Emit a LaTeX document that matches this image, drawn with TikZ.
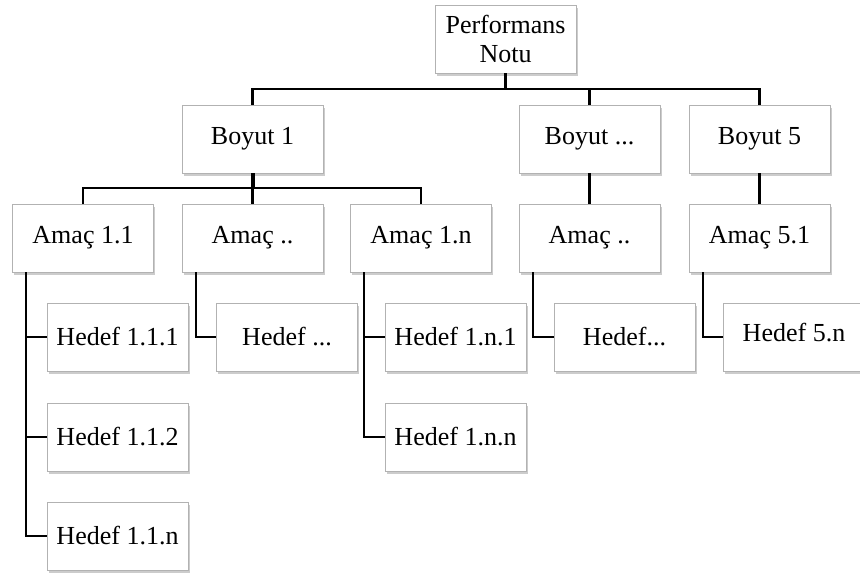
\documentclass[tikz,border=0pt]{standalone}
\usepackage{fontspec}
\setmainfont{Liberation Serif}
\usetikzlibrary{shadows}
\tikzset{box/.style={draw=gray!60, fill=white, line width=0.8pt, minimum width=141pt, minimum height=68pt, inner sep=0pt, align=center, font=\fontsize{26}{29}\selectfont, drop shadow={shadow xshift=1.5pt, shadow yshift=-2.5pt, opacity=0.4}},
conn/.style={line width=2.2pt}}

\begin{document}
\begin{tikzpicture}[x=1pt,y=-1pt]
\useasboundingbox (0,0) rectangle (860,574);
\node (root) at (505.5,39) [box] {Performans\\Notu};
\node (b1) at (252.5,139) [box] {Boyut 1};
\node (b2) at (589.5,139) [box] {Boyut ...};
\node (b5) at (759.5,139) [box] {Boyut 5};
\node (a11) at (83,238) [box] {Amaç 1.1};
\node (a12) at (252.5,238) [box] {Amaç ..};
\node (a1n) at (421,238) [box] {Amaç 1.n};
\node (a2) at (589.5,238) [box] {Amaç ..};
\node (a51) at (759.5,238) [box] {Amaç 5.1};
\node (h111) at (117.5,337) [box] {Hedef 1.1.1};
\node (h112) at (117.5,437) [box] {Hedef 1.1.2};
\node (h11n) at (117.5,536) [box] {Hedef 1.1.n};
\node (h12) at (287,337) [box] {Hedef ...};
\node (h1n1) at (455.5,337) [box] {Hedef 1.n.1};
\node (h1nn) at (455.5,437) [box] {Hedef 1.n.n};
\node (h2) at (624.5,337) [box] {Hedef...};
\node (h5n) at (794,337) [box] {\raisebox{10pt}{Hedef 5.n}};
\coordinate (rbus) at (505.5,89);
\coordinate (bbus) at (252.5,188);
\draw[conn, line width=3pt] (root.south) -- (rbus);
\draw[conn] (b1.north) |- (rbus) -| (b5.north);
\draw[conn] (b2.north) -- (b2.north |- rbus);
\draw[conn, line width=4pt] (b1.south) -- (bbus);
\draw[conn] (a11.north) |- (bbus) -| (a1n.north);
\draw[conn] (a12.north) -- (bbus);
\draw[conn] (b2.south) -- (a2.north);
\draw[conn] (b5.south) -- (a51.north);
\draw[conn] ([xshift=14pt]a11.south west) |- (h111.west);
\draw[conn] ([xshift=14pt]a11.south west) |- (h112.west);
\draw[conn] ([xshift=14pt]a11.south west) |- (h11n.west);
\draw[conn] ([xshift=14pt]a12.south west) |- (h12.west);
\draw[conn] ([xshift=14pt]a1n.south west) |- (h1n1.west);
\draw[conn] ([xshift=14pt]a1n.south west) |- (h1nn.west);
\draw[conn] ([xshift=14pt]a2.south west) |- (h2.west);
\draw[conn] ([xshift=14pt]a51.south west) |- (h5n.west);
\end{tikzpicture}
\end{document}
